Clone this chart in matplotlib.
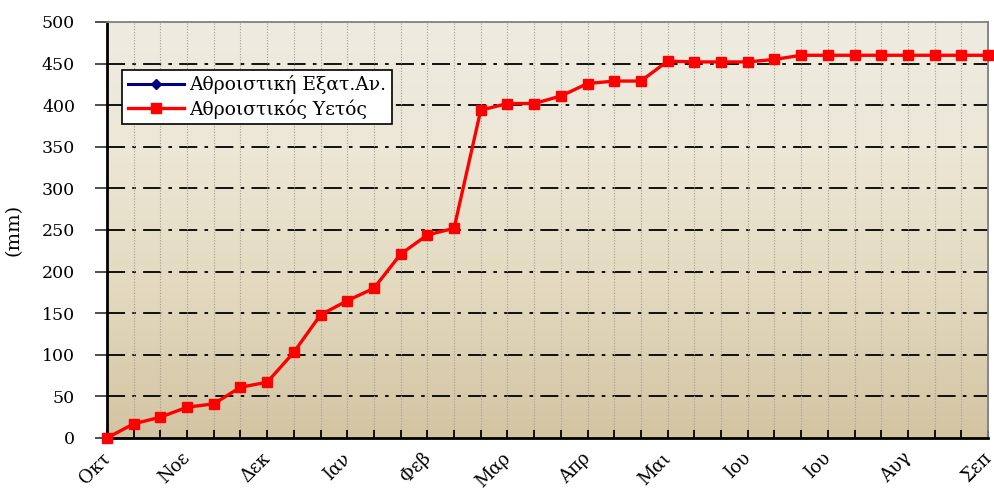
import matplotlib.pyplot as plt
import matplotlib.transforms as mtransforms
import numpy as np
from matplotlib.colors import LinearSegmentedColormap

# dekads Oct -> Sep (34 points)
rain_cum = [0, 17, 25, 37, 41, 61, 67, 103, 148, 165, 180, 221, 244, 252,
            394, 402, 402, 411, 426, 429, 429, 453, 452, 452, 452, 455,
            460, 460, 460, 460, 460, 460, 460, 460]
evap_cum = [0]
months = ['Οκτ', 'Νοε', 'Δεκ', 'Ιαν', 'Φεβ', 'Μαρ', 'Απρ', 'Μαι', 'Ιου', 'Ιου', 'Αυγ', 'Σεπ']

plt.rcParams['font.family'] = ['DejaVu Serif']
plt.rcParams['font.size'] = 13

fig = plt.figure(figsize=(9.94, 4.93), dpi=100)
ax = fig.add_axes([0.1076, 0.1116, 0.8864, 0.8438])

x = np.arange(len(rain_cum))
ax.set_xlim(0, len(rain_cum) - 1)
ax.set_ylim(0, 500)

# background gradient
cmap = LinearSegmentedColormap.from_list('bg', [(0, '#D3C4A2'), (0.35, '#E3D9BF'), (0.7, '#ECE7D6'), (1, '#EEEBE1')])
grad = np.linspace(0, 1, 256).reshape(-1, 1)
ax.imshow(grad, cmap=cmap, aspect='auto', origin='lower',
          extent=[0, len(rain_cum) - 1, 0, 500], zorder=0)

for v in range(50, 500, 50):
    ax.axhline(v, color='black', lw=1.3, ls=(0, (10, 4, 2, 4)), zorder=1)
for xi in x[1:-1]:
    ax.axvline(xi, color='#A09C94', lw=0.8, ls=(0, (1, 1.5)), zorder=1)

ax.plot(range(len(evap_cum)), evap_cum, color='#000080', lw=2.2, marker='D', ms=5,
        label='Αθροιστική Εξατ.Αν.', zorder=3)
ax.plot(x, rain_cum, color='#FF0000', lw=2.4, marker='s', ms=6.5,
        label='Αθροιστικός Υετός', zorder=4, clip_on=False)

ax.set_yticks(range(0, 501, 50))
ax.set_xticks(x)
ax.set_xticklabels([months[i // 3] if i % 3 == 0 else '' for i in x],
                   rotation=45, ha='right', rotation_mode='anchor', fontsize=13)
ax.tick_params(axis='x', direction='in', length=6, width=1.3, pad=8)
ax.tick_params(axis='y', direction='out', length=9, width=1.3, color='#404040',
               labelsize=12.5, pad=14)
ax.set_ylabel('(mm)', labelpad=14, fontsize=14)

# nudge month labels a bit to the left so the last one stays inside
shift = mtransforms.ScaledTranslation(-6 / 100, 0, fig.dpi_scale_trans)
for lbl in ax.get_xticklabels():
    lbl.set_transform(lbl.get_transform() + shift)

for s in ['left', 'bottom']:
    ax.spines[s].set_linewidth(2)
    ax.spines[s].set_color('black')
for s in ['top', 'right']:
    ax.spines[s].set_linewidth(1.3)
    ax.spines[s].set_color('#808080')

leg = ax.legend(loc='upper left', bbox_to_anchor=(0.017, 0.885), fancybox=False,
                edgecolor='black', framealpha=1, borderpad=0.3, labelspacing=0.25,
                handlelength=3.0, handletextpad=0.3, borderaxespad=0, fontsize=13.5)
leg.get_frame().set_linewidth(1.2)

fig.savefig('out.png', dpi=100)
